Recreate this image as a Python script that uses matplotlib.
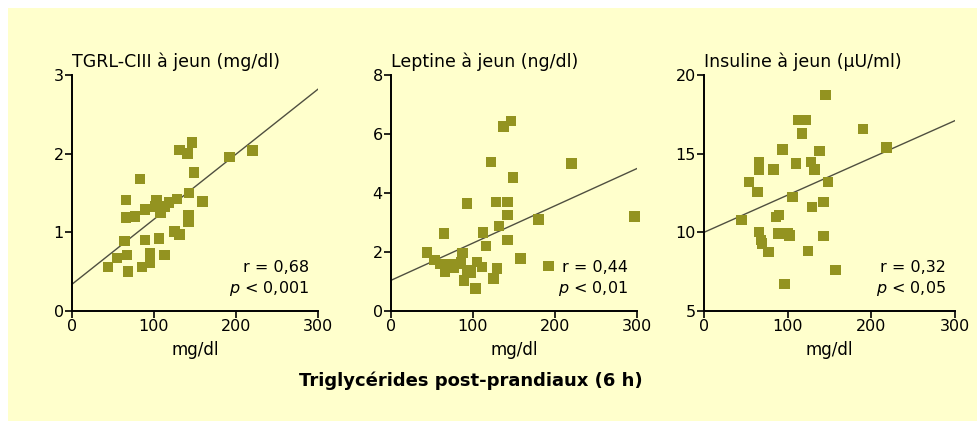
import matplotlib
matplotlib.use('Agg')
import matplotlib.pyplot as plt
from matplotlib.patches import Rectangle

# --- data ---
tg_tgrl = [44, 55, 67, 68, 64, 66, 66, 77, 83, 89, 89, 85, 95, 95, 106, 103, 102, 108,
           113, 113, 118, 128, 125, 131, 131, 141, 146, 142, 142, 143, 149, 159, 192, 220]
tgrl = [0.56, 0.67, 0.71, 0.50, 0.89, 1.41, 1.19, 1.20, 1.68, 1.29, 0.90, 0.56, 0.61, 0.73,
        0.92, 1.41, 1.33, 1.25, 1.33, 0.71, 1.38, 1.42, 1.01, 0.97, 2.05, 2.00, 2.14, 1.22,
        1.14, 1.50, 1.76, 1.39, 1.96, 2.04]

tg_lep = [44, 53, 60, 65, 66, 70, 76, 80, 85, 87, 89, 93, 93, 97, 103, 105, 111, 112, 116,
          122, 125, 128, 129, 132, 137, 146, 142, 142, 142, 149, 158, 180, 192, 220, 297]
leptine = [1.98, 1.72, 1.59, 2.63, 1.32, 1.59, 1.45, 1.59, 1.66, 1.97, 1.04, 3.65, 1.38, 1.30,
           0.76, 1.66, 1.49, 2.66, 2.20, 5.06, 1.10, 3.70, 1.44, 2.88, 6.25, 6.45, 3.70, 3.25,
           2.40, 4.53, 1.78, 3.10, 1.52, 5.00, 3.21]

tg_ins = [45, 54, 64, 66, 66, 66, 68, 69, 77, 83, 86, 90, 94, 89, 100, 102, 96, 106, 110,
          113, 122, 117, 128, 132, 138, 129, 124, 143, 143, 145, 148, 157, 190, 218]
insuline = [10.77, 13.21, 12.57, 14.48, 14.0, 10.03, 9.50, 9.3, 8.76, 14.0, 10.98, 11.09,
            15.27, 9.93, 9.93, 9.8, 6.7, 12.26, 14.38, 17.14, 17.14, 16.29, 14.48, 14.0,
            15.17, 11.62, 8.82, 11.94, 9.75, 18.73, 13.21, 7.59, 16.55, 15.4]

fit_x = [0, 300]
fit_tgrl = [0.34, 2.82]
fit_lep = [1.04, 4.83]
fit_ins = [10.0, 17.1]

titles = ['TGRL-CIII à jeun (mg/dl)', 'Leptine à jeun (ng/dl)', 'Insuline à jeun (µU/ml)']
r_labels = ['r = 0,68', 'r = 0,44', 'r = 0,32']
p_labels = ['$p$ < 0,001', '$p$ < 0,01', '$p$ < 0,05']
yticks = [[0, 1, 2, 3], [0, 2, 4, 6, 8], [5, 10, 15, 20]]
xticks = [0, 100, 200, 300]

plt.rcParams['font.family'] = ['DejaVu Sans']
plt.rcParams['mathtext.fontset'] = 'custom'
plt.rcParams['mathtext.it'] = 'DejaVu Sans:italic'

W, H = 978, 421
fig = plt.figure(figsize=(W / 100, H / 100), dpi=100, facecolor='white')

# yellow panel with a thin white margin top/left
fig.patches.append(Rectangle((8 / W, 0), 1 - 8 / W, 1 - 8 / H, transform=fig.transFigure,
                             facecolor='#FFFFCC', edgecolor='none', zorder=-5))

# axes boxes in pixels: left, right, top, bottom
boxes = [(72, 318, 75, 311), (391, 637, 75, 311), (704, 955, 75, 311)]
series = [(tg_tgrl, tgrl, fit_tgrl), (tg_lep, leptine, fit_lep), (tg_ins, insuline, fit_ins)]

for i, ((l, r, t, b), (xs, ys, fit)) in enumerate(zip(boxes, series)):
    ax = fig.add_axes([l / W, 1 - b / H, (r - l) / W, (b - t) / H])
    ax.set_facecolor('none')

    ax.scatter(xs, ys, marker='s', s=56, color='#939320', edgecolors='none', zorder=3,
               clip_on=False)
    ax.plot(fit_x, fit, color='#4f4f40', linewidth=1.0, zorder=2)

    ax.set_xlim(0, 300)
    ax.set_ylim(yticks[i][0], yticks[i][-1])
    ax.set_xticks(xticks)
    ax.set_yticks(yticks[i])

    for s in ['top', 'right']:
        ax.spines[s].set_visible(False)
    for s in ['left', 'bottom']:
        ax.spines[s].set_linewidth(1.4)
        ax.spines[s].set_color('black')
    ax.tick_params(direction='out', length=5, width=1.2, labelsize=11.5, pad=1)

    ax.set_xlabel('mg/dl', fontsize=12, labelpad=5)
    ax.text(0.0, 1.034, titles[i], transform=ax.transAxes, fontsize=12.5,
            ha='left', va='baseline')

    ax.text(0.965, 0.185, r_labels[i], transform=ax.transAxes, fontsize=11.5,
            ha='right', va='center')
    ax.text(0.965, 0.095, p_labels[i], transform=ax.transAxes, fontsize=11.5,
            ha='right', va='center')

fig.text(471 / W, 1 - 381 / H, 'Triglycérides post-prandiaux (6 h)', fontsize=13,
         fontweight='bold', ha='center', va='center')

fig.savefig('out.png', dpi=100, facecolor=fig.get_facecolor())
